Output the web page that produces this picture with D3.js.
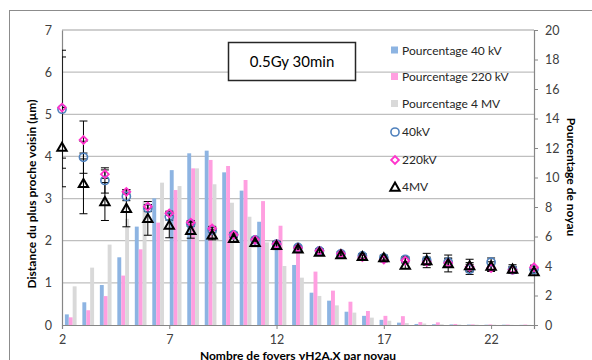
<!DOCTYPE html>
<html><head><meta charset="utf-8">
<script src="https://cdn.jsdelivr.net/npm/d3@7"></script>
<style>body{margin:0;background:#fff}svg{display:block;font-family:Lato,"Liberation Sans",sans-serif}</style>
</head><body><svg id="c" width="592" height="360"></svg>
<script>
// ---- data ----
const barCategories = [1,2,3,4,5,6,7,8,9,10,11,12,13,14,15,16,17,18,19,20,21,22,23,24,25,26,27];
const pct40kV  = [0.72,1.54,2.71,4.59,6.67,8.59,10.5,11.64,11.82,10.35,9.11,7.0,5.54,4.07,2.19,1.65,0.9,0.62,0.35,0.16,0.07,0.05,0.04,0.03,0.02,0.02,0.01];
const pct220kV = [0.52,1.0,1.96,3.35,5.13,6.94,9.15,10.62,11.19,10.78,9.83,8.4,6.73,5.54,3.62,2.33,1.58,0.95,0.62,0.6,0.2,0.18,0.07,0.04,0.04,0.03,0.03];
const pct4MV   = [2.62,3.89,5.45,7.2,8.4,9.65,9.42,10.62,9.54,8.29,7.34,5.6,4.0,3.21,1.97,1.33,0.84,0.5,0.29,0.13,0.1,0.05,0.03,0.02,0.02,0.01,0.01];

const foci = [2,3,4,5,6,7,8,9,10,11,12,13,14,15,16,17,18,19,20,21,22,23,24];
const dist40kV  = [5.12,3.98,3.43,3.05,2.77,2.57,2.40,2.25,2.14,2.02,1.92,1.84,1.76,1.69,1.64,1.59,1.56,1.53,1.49,1.32,1.49,1.31,1.32];
const err40kV   = [1.4,0.38,0.3,0.1,0.08,0.08,0.06,0.06,0.06,0.06,0.06,0.05,0.05,0.05,0.05,0.05,0.06,0.08,0.1,0.12,0.1,0.08,0.08];
const dist220kV = [5.16,4.39,3.58,3.16,2.81,2.65,2.43,2.29,2.14,2.02,1.92,1.83,1.76,1.69,1.61,1.55,1.53,1.50,1.47,1.38,1.35,1.31,1.37];
const err220kV  = [1.2,0.45,0.1,0.05,0.05,0.05,0.05,0.05,0.05,0.05,0.05,0.05,0.05,0.05,0.05,0.05,0.06,0.08,0.1,0.1,0.08,0.06,0.05];
const dist4MV   = [4.22,3.36,2.93,2.77,2.53,2.37,2.25,2.14,2.06,1.96,1.89,1.81,1.73,1.67,1.63,1.60,1.42,1.53,1.46,1.41,1.40,1.33,1.27];
const err4MV    = [0.94,0.72,0.45,0.44,0.4,0.3,0.19,0.12,0.1,0.1,0.1,0.06,0.06,0.06,0.06,0.06,0.08,0.17,0.2,0.15,0.1,0.1,0.05];

const leftTicks = [0,1,2,3,4,5,6,7];
const rightTicks = [0,2,4,6,8,10,12,14,16,18,20];
const xTicks = [2,7,12,17,22];
const barSeries = ["Pourcentage 40 kV","Pourcentage 220 kV","Pourcentage 4 MV"];
const pointSeries = ["40kV","220kV","4MV"];
const annotation = "0.5Gy 30min";

// ---- layout ----
const svg = d3.select("#c");
const L = 62, R = 534, T = 30, B = 325;
const barColors = ["#8db4e2","#ff9fe0","#d9d9d9"];
const ptColors = ["#4f81bd","#ff33cc","#000000"];

svg.append("rect").attr("x",9.5).attr("y",10.5).attr("width",640).attr("height",400)
  .attr("fill","#fff").attr("stroke","#8c8c8c").attr("stroke-width",1);

const yL = d3.scaleLinear().domain([0,7]).range([B,T]);
const yR = d3.scaleLinear().domain([0,20]).range([B,T]);
const x = d3.scaleLinear().domain([2,24]).range([L,R]);
const xb = d3.scaleBand().domain(barCategories).range([L,R]).padding(0);
const xs = d3.scaleBand().domain(barSeries).range([0,xb.bandwidth()]).paddingInner(0).paddingOuter(0.74);

// gridlines
svg.append("g").selectAll("line").data(leftTicks.filter(d=>d>0)).join("line")
  .attr("x1",L).attr("x2",R).attr("y1",d=>yL(d)).attr("y2",d=>yL(d))
  .attr("stroke","#bfbfbf").attr("stroke-width",1.3);

// annotation box
const bx = svg.append("g");
bx.append("rect").attr("x",228.5).attr("y",42.5).attr("width",127).attr("height",38)
  .attr("fill","#fff").attr("stroke","#262626").attr("stroke-width",1.5);
bx.append("text").attr("x",292).attr("y",67).attr("text-anchor","middle")
  .attr("font-size",15).attr("fill","#000").text(annotation);

// bars
const barData = [pct40kV,pct220kV,pct4MV];
barData.forEach((arr,si)=>{
  svg.append("g").selectAll("rect").data(arr.map((v,i)=>({c:barCategories[i],v}))).join("rect")
    .attr("x",d=>xb(d.c)+xs(barSeries[si]))
    .attr("width",xs.bandwidth())
    .attr("y",d=>yR(d.v))
    .attr("height",d=>B-yR(d.v))
    .attr("fill",barColors[si]);
});

// axes
const axB = svg.append("g").attr("transform",`translate(0,${B})`)
  .call(d3.axisBottom(x).tickValues(xTicks).tickSize(4).tickPadding(6).tickFormat(d3.format("d")));
const axL = svg.append("g").attr("transform",`translate(${L},0)`)
  .call(d3.axisLeft(yL).tickValues(leftTicks).tickSize(0).tickPadding(10).tickFormat(d3.format("d")));
const axR = svg.append("g").attr("transform",`translate(${R},0)`)
  .call(d3.axisRight(yR).tickValues(rightTicks).tickSize(4).tickPadding(7).tickFormat(d3.format("d")));
[axB,axL,axR].forEach(a=>{
  a.select(".domain").attr("stroke","#868686").attr("stroke-width",1.2);
  a.selectAll(".tick line").attr("stroke","#868686");
  a.selectAll("text").attr("font-size",12.5).attr("fill","#404040").attr("font-family","Lato");
});

// clip for error bars
svg.append("clipPath").attr("id","pc").append("rect")
  .attr("x",L).attr("y",T-10).attr("width",R-L+1).attr("height",B-T+10);

const ptData = [[dist40kV,err40kV],[dist220kV,err220kV],[dist4MV,err4MV]];
const eg = svg.append("g").attr("clip-path","url(#pc)");
ptData.forEach(([vals,errs])=>{
  foci.forEach((f,i)=>{
    const cx = x(f), y1 = yL(vals[i]+errs[i]), y2 = yL(vals[i]-errs[i]);
    eg.append("line").attr("x1",cx).attr("x2",cx).attr("y1",y1).attr("y2",y2).attr("stroke","#000").attr("stroke-width",1);
    eg.append("line").attr("x1",cx-4).attr("x2",cx+4).attr("y1",y1).attr("y2",y1).attr("stroke","#000").attr("stroke-width",1);
    eg.append("line").attr("x1",cx-4).attr("x2",cx+4).attr("y1",y2).attr("y2",y2).attr("stroke","#000").attr("stroke-width",1);
  });
});

// markers
const symCircle = d3.symbol().type(d3.symbolCircle).size(52);
const symDiamond = d3.symbol().type(d3.symbolSquare).size(30);
const symTri = d3.symbol().type(d3.symbolTriangle).size(38);
function drawMarker(g, kind, cx, cy){
  if(kind===0) return g.append("path").attr("d",symCircle()).attr("transform",`translate(${cx},${cy})`)
    .attr("fill","none").attr("stroke",ptColors[0]).attr("stroke-width",1.6);
  if(kind===1) return g.append("path").attr("d",symDiamond()).attr("transform",`translate(${cx},${cy}) rotate(45)`)
    .attr("fill","none").attr("stroke",ptColors[1]).attr("stroke-width",1.8);
  return g.append("path").attr("d",symTri()).attr("transform",`translate(${cx},${cy+1})`)
    .attr("fill","none").attr("stroke",ptColors[2]).attr("stroke-width",2);
}
const mg = svg.append("g");
ptData.forEach(([vals],si)=>{
  foci.forEach((f,i)=>drawMarker(mg,si,x(f),yL(vals[i])));
});

// legend
const lg = svg.append("g");
const rows = [50.5,77,104,132,160,187];
barSeries.forEach((s,i)=>{
  lg.append("rect").attr("x",391).attr("y",rows[i]-4).attr("width",7).attr("height",7).attr("fill",barColors[i]);
  lg.append("text").attr("x",402).attr("y",rows[i]+4).attr("font-size",12).attr("fill","#262626").text(s);
});
pointSeries.forEach((s,i)=>{
  drawMarker(lg,i,395,rows[i+3]);
  lg.append("text").attr("x",402).attr("y",rows[i+3]+4).attr("font-size",12).attr("fill","#262626").text(s);
});

// axis titles
svg.append("text").attr("x",298).attr("y",360).attr("text-anchor","middle")
  .attr("font-size",12).attr("font-weight","bold").text("Nombre de foyers γH2A.X par noyau");
svg.append("text").attr("transform","translate(36,194) rotate(-90)").attr("text-anchor","middle")
  .attr("font-size",12).attr("font-weight","bold").text("Distance du plus proche voisin (µm)");
svg.append("text").attr("transform","translate(567,177) rotate(90)").attr("text-anchor","middle")
  .attr("font-size",12).attr("font-weight","bold").text("Pourcentage de noyau");
</script></body></html>
